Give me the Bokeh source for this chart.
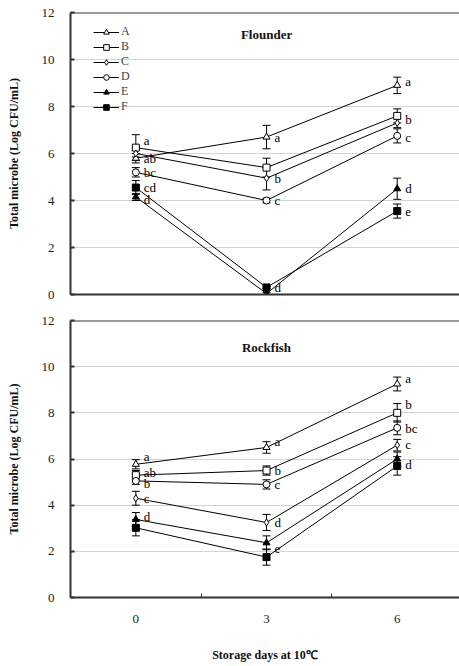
from bokeh.plotting import figure
from bokeh.layouts import column
from bokeh.models import (ColumnDataSource, Whisker, TeeHead, FixedTicker, Label,
                          Legend, LegendItem, Span)
from bokeh.core.properties import value
from bokeh.embed import file_html
from bokeh.resources import INLINE

days = [0, 3, 6]
series = ["A", "B", "C", "D", "E", "F"]

# Flounder
fl_A = [5.80, 6.70, 8.90]
fl_B = [6.25, 5.40, 7.60]
fl_C = [6.00, 4.95, 7.30]
fl_D = [5.20, 4.00, 6.75]
fl_E = [4.15, 0.04, 4.50]
fl_F = [4.55, 0.30, 3.55]
fl_A_sd = [0.20, 0.50, 0.35]
fl_B_sd = [0.55, 0.40, 0.30]
fl_C_sd = [0.15, 0.50, 0.20]
fl_D_sd = [0.20, 0.10, 0.30]
fl_E_sd = [0.15, 0.05, 0.45]
fl_F_sd = [0.30, 0.05, 0.30]

# Rockfish
rf_A = [5.77, 6.50, 9.25]
rf_B = [5.30, 5.50, 8.00]
rf_C = [4.30, 3.25, 6.60]
rf_D = [5.05, 4.90, 7.35]
rf_E = [3.38, 2.37, 6.00]
rf_F = [3.02, 1.75, 5.70]
rf_A_sd = [0.20, 0.25, 0.30]
rf_B_sd = [0.20, 0.20, 0.40]
rf_C_sd = [0.30, 0.35, 0.25]
rf_D_sd = [0.15, 0.20, 0.30]
rf_E_sd = [0.30, 0.30, 0.30]
rf_F_sd = [0.35, 0.35, 0.40]

# significance letters: (day index, anchor series, letter)
fl_letters = [(0, "B", "a"), (0, "A", "ab"), (0, "D", "bc"), (0, "F", "cd"), (0, "E", "d"),
              (1, "A", "a"), (1, "C", "b"), (1, "D", "c"), (1, "F", "d"),
              (2, "A", "a"), (2, "C", "b"), (2, "D", "c"), (2, "E", "d"), (2, "F", "e")]
fl_letter_dy = [-7, 0, 0, 0, 3, 0, 0, 0, 0, -4, -3, 2, 0, 1]
rf_letters = [(0, "A", "a"), (0, "B", "ab"), (0, "D", "b"), (0, "C", "c"), (0, "E", "d"),
              (1, "A", "a"), (1, "B", "b"), (1, "D", "c"), (1, "C", "d"), (1, "E", "e"),
              (2, "A", "a"), (2, "B", "b"), (2, "D", "bc"), (2, "C", "c"), (2, "F", "d")]
rf_letter_dy = [-8, -3, 3, 0, -3, -6, 0, 0, 0, 6, -5, -8, 1, -1, -1]

y_ticks = [0, 2, 4, 6, 8, 10, 12]
x_labels = ["0", "3", "6"]

SERIF = "Liberation Serif"
AX = "#333333"
GRID = "#d4d4d4"

marker_style = {
    "A": dict(marker="triangle", fill_color="white", size=7),
    "B": dict(marker="square", fill_color="white", size=7),
    "C": dict(marker="diamond", fill_color="white", size=7),
    "D": dict(marker="circle", fill_color="white", size=7),
    "E": dict(marker="triangle", fill_color="black", size=7),
    "F": dict(marker="square", fill_color="black", size=7),
}


def make_panel(vals, sds, letters, letter_dy, title, height, show_x, legend,
               border_top, border_bottom):
    p = figure(width=459, height=height, x_range=(-1.5, 7.43), y_range=(0, 12),
               output_backend="svg", toolbar_location=None,
               min_border_left=70, min_border_right=0,
               min_border_top=border_top, min_border_bottom=border_bottom)
    p.outline_line_color = None
    p.background_fill_color = "white"
    p.border_fill_color = "white"
    p.xgrid.visible = False
    p.ygrid.grid_line_color = GRID
    p.ygrid.grid_line_width = 1
    p.ygrid.ticker = FixedTicker(ticks=[2, 4, 6, 8, 10])

    p.yaxis.ticker = FixedTicker(ticks=y_ticks)
    p.yaxis.axis_line_color = AX
    p.yaxis.axis_line_width = 2
    p.yaxis.major_tick_in = 4
    p.yaxis.major_tick_out = 0
    p.yaxis.major_tick_line_color = AX
    p.yaxis.major_tick_line_width = 2
    p.yaxis.minor_tick_line_color = None
    p.yaxis.major_label_text_font = SERIF
    p.yaxis.major_label_text_font_size = "13px"
    p.yaxis.major_label_text_color = "#222222"
    p.yaxis.major_label_standoff = 16
    p.yaxis.axis_label = "Total microbe (Log CFU/mL)"
    p.yaxis.axis_label_text_font = SERIF
    p.yaxis.axis_label_text_font_style = "bold"
    p.yaxis.axis_label_text_font_size = "12px"
    p.yaxis.axis_label_text_color = "#111111"
    p.yaxis.axis_label_standoff = 18

    p.xaxis.axis_line_color = AX
    p.xaxis.axis_line_width = 2
    p.xaxis.ticker = FixedTicker(ticks=[0, 3, 6], minor_ticks=[1.5, 4.5])
    p.xaxis.major_tick_in = 0
    p.xaxis.major_tick_out = 0
    p.xaxis.major_label_overrides = {0: x_labels[0], 3: x_labels[1], 6: x_labels[2]}
    if show_x:
        p.xaxis.minor_tick_in = 4
        p.xaxis.minor_tick_out = 0
        p.xaxis.minor_tick_line_color = AX
        p.xaxis.minor_tick_line_width = 1
        p.xaxis.major_label_text_font = SERIF
        p.xaxis.major_label_text_font_size = "13px"
        p.xaxis.major_label_text_color = "#222222"
        p.xaxis.major_label_standoff = 17
        p.xaxis.axis_label = "Storage days at 10\u2103"
        p.xaxis.axis_label_text_font = SERIF
        p.xaxis.axis_label_text_font_style = "bold"
        p.xaxis.axis_label_text_font_size = "12px"
        p.xaxis.axis_label_text_color = "#111111"
        p.xaxis.axis_label_standoff = 22
    else:
        p.xaxis.minor_tick_line_color = None
        p.xaxis.major_label_text_alpha = 0
        p.xaxis.major_label_text_font_size = "1px"
        p.xaxis.major_label_standoff = 0

    # top border line
    p.add_layout(Span(location=12, dimension="width", line_color=AX, line_width=2))

    items = []
    for s in series:
        src = ColumnDataSource(dict(x=days, y=vals[s],
                                    lo=[v - e for v, e in zip(vals[s], sds[s])],
                                    hi=[v + e for v, e in zip(vals[s], sds[s])]))
        w = Whisker(source=src, base="x", upper="hi", lower="lo",
                    line_color="black", line_width=1,
                    upper_head=TeeHead(size=8, line_color="black", line_width=1),
                    lower_head=TeeHead(size=8, line_color="black", line_width=1))
        p.add_layout(w)
        ln = p.line("x", "y", source=src, line_color="black", line_width=1)
        ms = marker_style[s]
        sc = p.scatter("x", "y", source=src, marker=ms["marker"], size=ms["size"],
                       fill_color=ms["fill_color"], line_color="black", line_width=1)
        items.append(LegendItem(label=s, renderers=[ln, sc]))

    lx, ly, lt = [], [], []
    for (di, s, t) in letters:
        lx.append(days[di])
        ly.append(vals[s][di])
        lt.append(t)
    lsrc = ColumnDataSource(dict(x=lx, y=ly, t=lt, dy=letter_dy))
    p.text("x", "y", text="t", source=lsrc, x_offset=8, y_offset="dy",
           text_font=value(SERIF), text_font_size="13px", text_color="black",
           text_baseline="middle", text_align="left")

    p.add_layout(Label(x=3, y=title[1], text=title[0], text_font=SERIF,
                       text_font_style="bold", text_font_size="13px",
                       text_align="center", text_baseline="middle", text_color="#111111"))

    if legend:
        lg = Legend(items=items, location=(23, 180), padding=0, margin=0,
                    spacing=0, glyph_width=26, glyph_height=14, label_height=14,
                    label_standoff=2, label_text_font=SERIF,
                    label_text_font_size="12px", border_line_color=None,
                    background_fill_alpha=0)
        p.add_layout(lg)
    return p


fl_vals = dict(A=fl_A, B=fl_B, C=fl_C, D=fl_D, E=fl_E, F=fl_F)
fl_sds = dict(A=fl_A_sd, B=fl_B_sd, C=fl_C_sd, D=fl_D_sd, E=fl_E_sd, F=fl_F_sd)
rf_vals = dict(A=rf_A, B=rf_B, C=rf_C, D=rf_D, E=rf_E, F=rf_F)
rf_sds = dict(A=rf_A_sd, B=rf_B_sd, C=rf_C_sd, D=rf_D_sd, E=rf_E_sd, F=rf_F_sd)

p1 = make_panel(fl_vals, fl_sds, fl_letters, fl_letter_dy, ("Flounder", 11.05),
                310, False, True, 12, 16)
p2 = make_panel(rf_vals, rf_sds, rf_letters, rf_letter_dy, ("Rockfish", 10.85),
                356, True, False, 10, 69)

p = column(p1, p2, spacing=0)
open("out.html", "w").write(file_html(p, INLINE))
